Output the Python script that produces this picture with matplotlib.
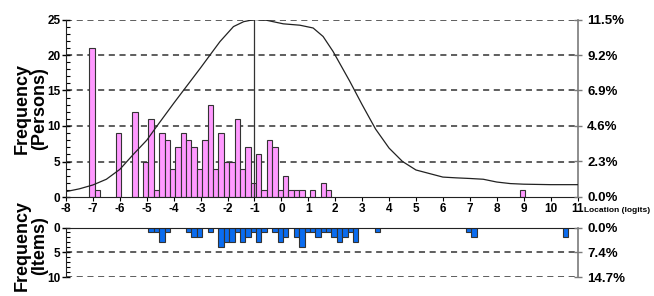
import matplotlib
matplotlib.use("Agg")
import matplotlib.pyplot as plt
from matplotlib.ticker import MultipleLocator, FixedLocator

plt.rcParams['font.family'] = ['Liberation Sans', 'DejaVu Sans']
plt.rcParams['font.weight'] = 'bold'

# ---- data ----
person_loc = [-7.0, -6.8, -6.0, -5.4, -5.0, -4.8, -4.6, -4.4, -4.2, -4.0, -3.8, -3.6, -3.4, -3.2,
              -3.0, -2.8, -2.6, -2.4, -2.2, -2.0, -1.8, -1.6, -1.4, -1.2, -1.0, -0.8, -0.6, -0.4,
              -0.2, 0.0, 0.2, 0.4, 0.6, 0.8, 1.2, 1.6, 1.8, 9.0]
person_freq = [21, 1, 9, 12, 5, 11, 1, 9, 8, 4, 7, 9, 8, 7,
               4, 8, 13, 4, 9, 5, 5, 11, 4, 7, 2, 6, 1, 8,
               7, 1, 3, 1, 1, 1, 1, 2, 1, 1]

item_loc = [-4.8, -4.6, -4.4, -4.2, -3.4, -3.2, -3.0, -2.6, -2.2, -2.0, -1.8, -1.6, -1.4, -1.2,
            -1.0, -0.8, -0.6, -0.2, 0.0, 0.2, 0.6, 0.8, 1.0, 1.2, 1.4, 1.6, 1.8, 2.0, 2.2,
            2.4, 2.6, 2.8, 3.6, 7.0, 7.2, 10.6]
item_freq = [1, 1, 3, 1, 1, 2, 2, 1, 4, 3, 3, 1, 3, 2,
             1, 3, 1, 1, 3, 2, 2, 4, 1, 1, 2, 1, 1, 2, 3,
             2, 1, 3, 1, 1, 2, 2]

curve_x = [-8.0, -7.5, -7.0, -6.5, -6.0, -5.5, -5.0, -4.62, -4.0, -3.64, -3.0, -2.65, -2.28,
           -1.78, -1.4, -1.0, -0.55, 0.07, 0.69, 1.18, 1.55, 1.92, 2.54, 3.0, 3.5, 4.0, 4.5,
           5.0, 6.0, 6.5, 7.0, 7.5, 8.0, 8.5, 9.0, 10.0, 11.0]
curve_pct = [0.35, 0.53, 0.78, 1.15, 1.79, 2.76, 3.68, 4.6, 6.07, 6.9, 8.37, 9.2, 10.07,
             11.04, 11.36, 11.5, 11.45, 11.22, 11.13, 10.95, 10.4, 9.43, 7.5, 5.98, 4.4, 3.17, 2.3,
             1.75, 1.29, 1.24, 1.2, 1.15, 0.97, 0.87, 0.83, 0.8, 0.8]

person_mean = -1.0
x_ticks = list(range(-8, 12))
pct_ticks_top = [0.0, 2.3, 4.6, 6.9, 9.2, 11.5]
pct_ticks_bot = [0.0, 7.35, 14.7]
pct_labels_bot = ['0.0%', '7.4%', '14.7%']

BIN_W = 0.2
BIN_SHIFT = -0.04
PINK = '#ff99ff'
BLUE = '#0a6cf0'
GRAY = '#7a7a7a'
TICK_FS = 8.5
PCT_FS = 9.5
LABEL_FS = 13

fig = plt.figure(figsize=(6.54, 2.96), dpi=100)
W, H = 654.0, 296.0
L, R = 66.0, 577.5

# ---------------- top panel ----------------
ax = fig.add_axes([L / W, (H - 197) / H, (R - L) / W, (197 - 19.5) / H])
ax.set_xlim(-8, 11)
ax.set_ylim(0, 25)
for yv in [5, 10, 15, 20, 25]:
    ax.axhline(yv, color='#333333', lw=1.1, ls=(0, (4, 3)), zorder=1)
ax.bar([p + BIN_SHIFT for p in person_loc], person_freq, width=BIN_W, color=PINK,
       edgecolor='#333333', linewidth=0.8, zorder=2)
ax.plot([person_mean, person_mean], [0, 25], color='#333333', lw=0.9, zorder=3)

ax.set_xticks(x_ticks)
ax.set_xticklabels([str(t) for t in x_ticks], fontsize=TICK_FS, fontweight='bold')
ax.yaxis.set_major_locator(MultipleLocator(5))
ax.yaxis.set_minor_locator(MultipleLocator(1))
ax.tick_params(axis='y', which='major', direction='inout', length=6, width=1, labelsize=TICK_FS, pad=1)
ax.tick_params(axis='y', which='minor', direction='in', length=3, width=0.8)
ax.tick_params(axis='x', which='major', direction='out', length=3, width=0.8, labelsize=TICK_FS, pad=1)
for lab in ax.get_yticklabels():
    lab.set_fontweight('bold')
ax.spines['top'].set_visible(False)
ax.spines['right'].set_visible(False)
ax.spines['left'].set_color('#222222')
ax.spines['bottom'].set_color('#222222')
ax.set_ylabel('Frequency\n(Persons)', fontsize=LABEL_FS, fontweight='bold', labelpad=2, linespacing=1.0)

ax2 = ax.twinx()
ax2.set_ylim(0, 11.5)
ax2.plot(curve_x, curve_pct, color='#222222', lw=0.9, zorder=4)
ax2.yaxis.set_major_locator(FixedLocator(pct_ticks_top))
ax2.set_yticklabels(['%.1f%%' % t for t in pct_ticks_top], fontsize=PCT_FS, fontweight='bold')
ax2.tick_params(axis='y', direction='inout', length=6, width=1, color=GRAY, pad=4)
for s in ['top', 'left', 'bottom']:
    ax2.spines[s].set_visible(False)
ax2.spines['right'].set_color(GRAY)
ax2.spines['right'].set_linewidth(1.2)

fig.text((R + 7) / W, (H - 210) / H, 'Location (logits)', fontsize=6, fontweight='bold',
         ha='left', va='center')

# ---------------- bottom panel ----------------
bx = fig.add_axes([L / W, (H - 277) / H, (R - L) / W, (277 - 227.5) / H])
bx.set_xlim(-8, 11)
bx.set_ylim(10, 0)
for yv in [5, 10]:
    bx.axhline(yv, color='#333333', lw=1.1, ls=(0, (4, 3)), zorder=1)
bx.bar([p + BIN_SHIFT for p in item_loc], item_freq, width=BIN_W, color=BLUE,
       edgecolor='#333333', linewidth=0.8, zorder=2)
bx.set_xticks([])
bx.yaxis.set_major_locator(MultipleLocator(5))
bx.yaxis.set_minor_locator(MultipleLocator(1))
bx.tick_params(axis='y', which='major', direction='inout', length=6, width=1, labelsize=TICK_FS, pad=1)
bx.tick_params(axis='y', which='minor', direction='in', length=3, width=0.8)
for lab in bx.get_yticklabels():
    lab.set_fontweight('bold')
bx.spines['bottom'].set_visible(False)
bx.spines['right'].set_visible(False)
bx.spines['top'].set_color('#222222')
bx.spines['left'].set_color('#222222')
bx.set_ylabel('Frequency\n(Items)', fontsize=LABEL_FS, fontweight='bold', labelpad=2, linespacing=1.0)

bx2 = bx.twinx()
bx2.set_ylim(14.7, 0)
bx2.yaxis.set_major_locator(FixedLocator(pct_ticks_bot))
bx2.set_yticklabels(pct_labels_bot, fontsize=PCT_FS, fontweight='bold')
bx2.tick_params(axis='y', direction='inout', length=6, width=1, color=GRAY, pad=4)
for s in ['top', 'left', 'bottom']:
    bx2.spines[s].set_visible(False)
bx2.spines['right'].set_color(GRAY)
bx2.spines['right'].set_linewidth(1.2)

# align y labels horizontally (right edge of label block ~ 48 px)
ax.yaxis.set_label_coords(-0.035, 0.5)
bx.yaxis.set_label_coords(-0.035, 0.64)

fig.savefig('out.png', dpi=100)
